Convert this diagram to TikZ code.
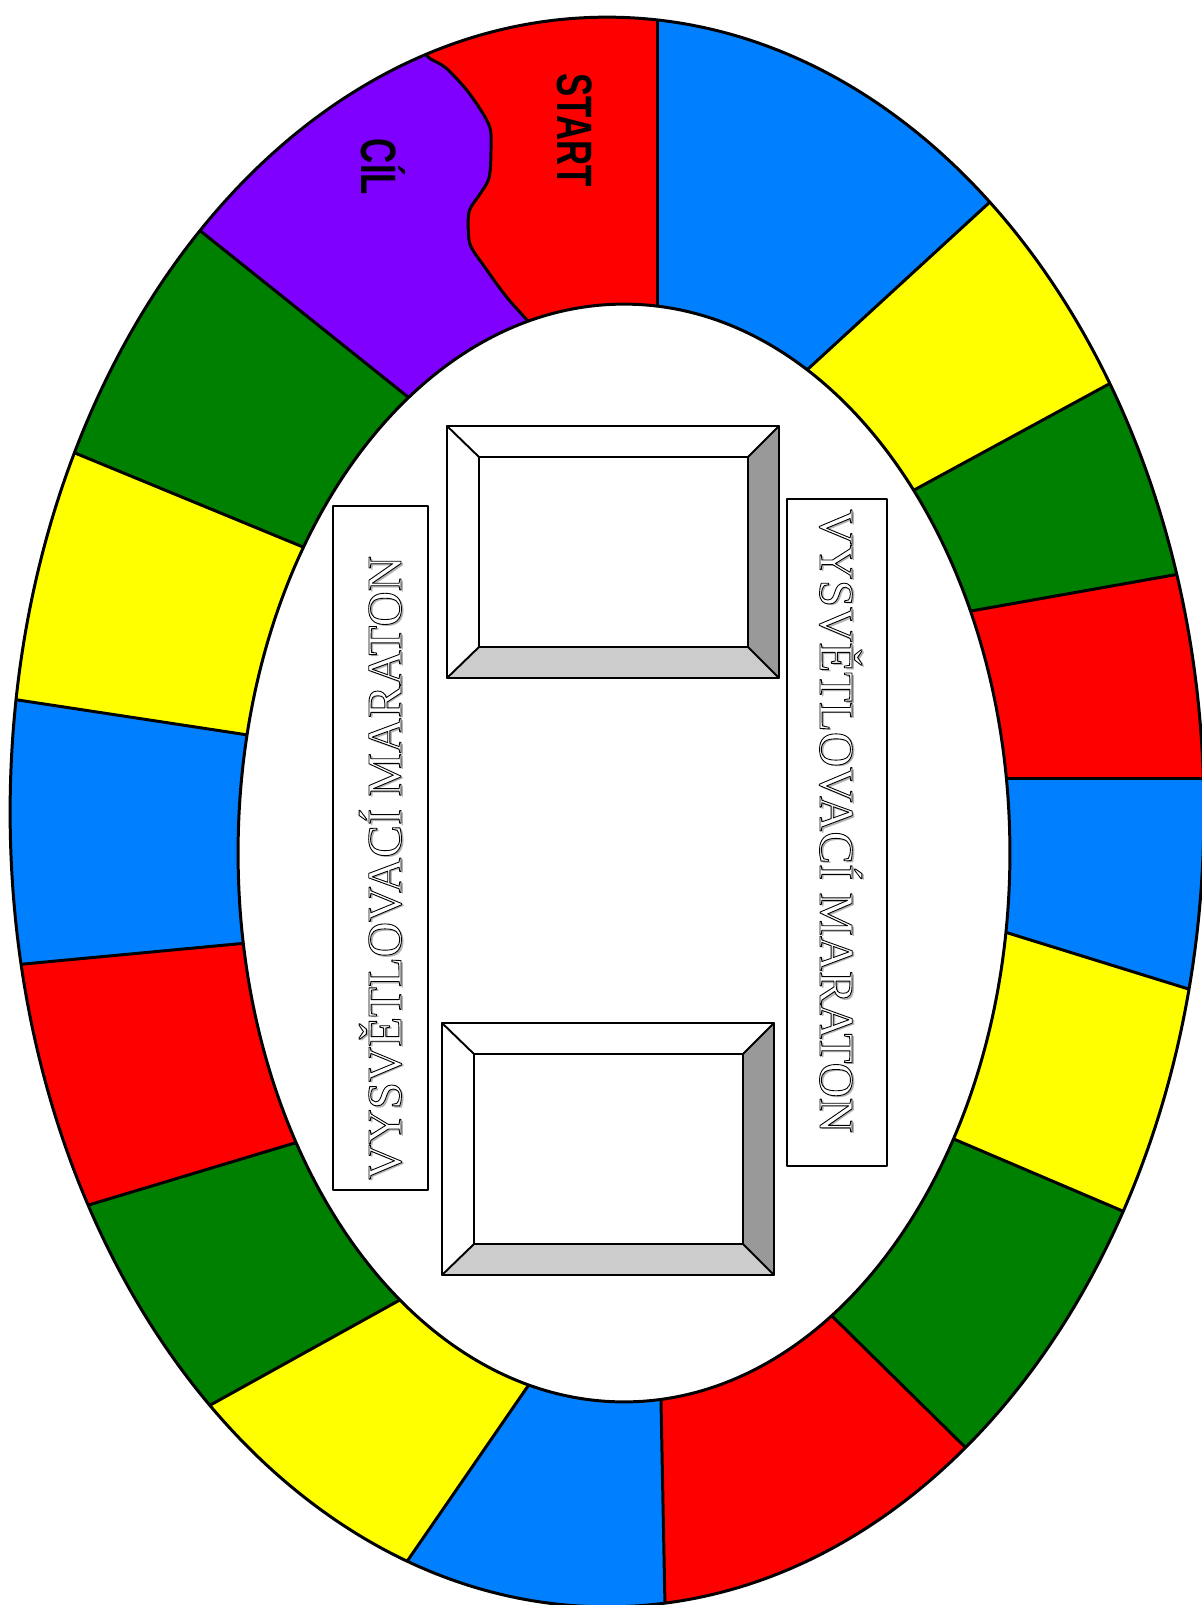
\documentclass[tikz,border=0pt]{standalone}
\usepackage{fontspec}
\usepackage{graphicx}
\setmainfont{Liberation Serif}
\newfontfamily\gamefont{Liberation Sans}
\usetikzlibrary{calc}

\definecolor{fieldred}{RGB}{255,0,0}
\definecolor{fieldblue}{RGB}{0,128,255}
\definecolor{fieldyellow}{RGB}{255,255,0}
\definecolor{fieldgreen}{RGB}{0,128,0}
\definecolor{fieldviolet}{RGB}{128,0,255}
\definecolor{bevelgray}{RGB}{153,153,153}
\definecolor{bevellight}{RGB}{204,204,204}

\newcommand{\hollow}[1]{\special{pdf:literal direct 0 G 2 Tr 0.5 w}#1\special{pdf:literal direct 0 Tr}}

\begin{document}
\begin{tikzpicture}[x=0.02cm,y=-0.02cm,line cap=round,line join=round,
    ringline/.style={line width=1.7pt},
    frameline/.style={line width=1.1pt},
    boxline/.style={line width=0.9pt},
    sign/.style={anchor=base west,inner sep=0pt,font=\fontsize{27.8}{30}\selectfont},
    field/.style={anchor=base,inner sep=0pt,font=\gamefont\bfseries\fontsize{28.3}{30}\selectfont}]
        \useasboundingbox (0,0) rectangle (1202,1605);
        \coordinate (Oo) at (607,812);
        \coordinate (Oi) at (624,853);

        \foreach \n/\ax/\ay/\bx/\by in {1/657/16/657/306, 2/991/201/808/369,
            3/1109/384/916/489, 4/1185/573/971/611, 5/1204/778/1004/778,
            6/1195/991/1008/933, 7/1125/1212/956/1140, 8/967/1449/834/1318,
            9/665/1607/661/1401, 10/408/1560/528/1386, 11/214/1403/398/1301,
            12/92/1204/298/1142, 13/24/964/247/943, 14/18/700/248/735,
            15/75/453/303/547, 16/203/233/408/397}
            {\coordinate (A\n) at (\ax,\ay); \coordinate (B\n) at (\bx,\by);}

        % fields of the track
        \begin{scope}
            \clip (Oo) ellipse [x radius=11.94cm, y radius=15.9cm];
            \foreach \i/\j/\c in {1/2/fieldblue, 2/3/fieldyellow, 3/4/fieldgreen,
                4/5/fieldred, 5/6/fieldblue, 6/7/fieldyellow, 7/8/fieldgreen,
                8/9/fieldred, 9/10/fieldblue, 10/11/fieldyellow, 11/12/fieldgreen,
                12/13/fieldred, 13/14/fieldblue, 14/15/fieldyellow, 15/16/fieldgreen}
                \fill[\c] ($(A\i)!1.2!(B\i)$) -- ($(B\i)!3!(A\i)$)
                    -- ($(B\j)!3!(A\j)$) -- ($(A\j)!1.2!(B\j)$) -- cycle;
            \fill[fieldred] ($(A1)!1.2!(B1)$) -- ($(B1)!3!(A1)$)
                -- ($(B16)!3!(A16)$) -- ($(A16)!1.2!(B16)$) -- cycle;
            \fill[fieldviolet] ($(A16)!1.2!(B16)$) -- ($(B16)!3!(A16)$) -- (400,-300)
                -- plot[smooth] coordinates {(424,45) (428,57) (446,68) (469,93)
                (489,125) (491,150) (489,178) (480,194) (469,212) (469,240) (474,252)
                (484,266) (496,283) (509,300) (527,320) (540,335)} -- cycle;
            \foreach \n in {1,...,16}
                \draw[ringline] ($(B\n)!1.3!(A\n)$) -- ($(A\n)!1.1!(B\n)$);
            \draw[ringline] plot[smooth] coordinates {(424,45) (428,57) (446,68)
                (469,93) (489,125) (491,150) (489,178) (480,194) (469,212) (469,240)
                (474,252) (484,266) (496,283) (509,300) (527,320) (540,335)};
        \end{scope}
        \fill[white] (Oi) ellipse [x radius=7.72cm, y radius=10.98cm];
        \draw[ringline] (Oi) ellipse [x radius=7.72cm, y radius=10.98cm];
        \draw[ringline] (Oo) ellipse [x radius=11.94cm, y radius=15.9cm];

        \node[field,rotate=-90] (start) at (557,130) {\scalebox{0.7}[1]{START}};
        \node[field,rotate=-90] (goal) at (361,167) {\scalebox{0.7}[1]{CÍL}};

        % picture frames
        \foreach \fx/\fy in {447/426, 442/1023}{
            \begin{scope}[shift={(\fx,\fy)}]
                \fill[white] (0,0) rectangle (332,252);
                \fill[bevelgray] (332,0) -- (332,252) -- (301,221) -- (301,31) -- cycle;
                \fill[bevellight] (0,252) -- (332,252) -- (301,221) -- (32,221) -- cycle;
                \draw[frameline] (0,0) rectangle (332,252);
                \draw[frameline] (32,31) rectangle (301,221);
                \draw[frameline] (0,0) -- (32,31) (332,0) -- (301,31)
                    (0,252) -- (32,221) (332,252) -- (301,221);
            \end{scope}
        }

        \draw[boxline] (333,506) rectangle (428,1190);
        \draw[boxline] (787,499) rectangle (887,1166);
        \node[sign,rotate=90,text=gray!60] (leftshadow) at (403,1182) {VYSVĚTLOVACÍ MARATON};
        \node[sign,rotate=90,text=white] (lefttitle) at (401,1180) {\hollow{VYSVĚTLOVACÍ MARATON}};
        \node[sign,rotate=-90,text=gray!60] (rightshadow) at (822,511) {VYSVĚTLOVACÍ MARATON};
        \node[sign,rotate=-90,text=white] (righttitle) at (820,509) {\hollow{VYSVĚTLOVACÍ MARATON}};
    \end{tikzpicture}
\end{document}
